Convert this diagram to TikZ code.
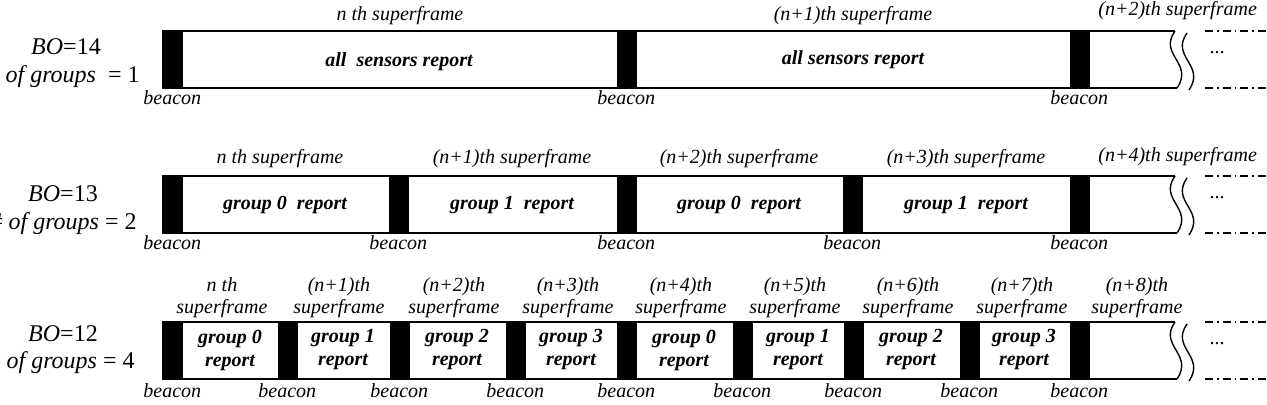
\documentclass[tikz,border=0pt]{standalone}
\usepackage{fontspec}
\setmainfont{Liberation Serif}
\usetikzlibrary{positioning}

\begin{document}
\begin{tikzpicture}[x=0.5pt,y=-0.5pt,
  bar/.style={line width=0.7pt},
  beaconbox/.style={draw,fill=black,line width=0.5pt,minimum width=9.25pt,minimum height=28.5pt,inner sep=0pt,anchor=north west},
  beaconlbl/.style={font=\fontsize{10}{12}\selectfont\itshape,inner sep=0pt,anchor=base},
  sflbl/.style={font=\fontsize{10}{11}\selectfont\itshape,inner sep=0pt,align=center,anchor=base},
  reportlbl/.style={font=\fontsize{10}{11.5}\selectfont\bfseries\itshape,inner sep=0pt,align=center},
  bolbl/.style={font=\fontsize{12}{14}\selectfont,inner sep=0pt,anchor=base},
  dotslbl/.style={font=\fontsize{10}{12}\selectfont,inner sep=0pt},
  dashdot/.style={line width=0.6pt,dash pattern=on 4pt off 2pt on 0.8pt off 2pt}]
  \useasboundingbox (0,0) rectangle (1267,405);
  % frame outline, torn end and what follows
  \foreach \T [count=\r] in {31,176,322} {
    \draw[bar] (1175,\T) -- (163,\T) -- (163,\T+57) -- (1177,\T+57);
    \draw[bar] (1175,\T) .. controls (1158,\T+24) and (1194,\T+32) .. (1177,\T+57);
    \draw[bar] (1187,\T+2) .. controls (1170,\T+26) and (1206,\T+34) .. (1189,\T+59);
    \draw[dashdot] (1205,\T) -- (1267,\T);
    \draw[dashdot] (1205,\T+57) -- (1267,\T+57);
    \node[dotslbl] (more\r) at (1217,\T+22) {...};
  }
  % BO = 14
  \node[bolbl] (boA) at (66,55) {\textit{BO}=14};
  \node[bolbl,anchor=base east] (grA) at (140,83) {\# \textit{of groups}~ = 1};
  \foreach \x [count=\k from 0] in {163,617,1070} {
    \node[beaconbox] (bA\k) at (\x,31) {};
    \node[beaconlbl] (bcA\k) at (\x+9.25,105) {beacon};
  }
  \node[sflbl] (sfA0) at (400,21) {n th superframe};
  \node[sflbl] (sfA1) at (853,21) {(n+1)th superframe};
  \node[sflbl,anchor=base west] (sfA2) at (1098,16) {(n+2)th superframe};
  \node[reportlbl] (rpA0) at (399,62) {all~ sensors report};
  \node[reportlbl] (rpA1) at (853,60) {all sensors report};
  % BO = 13
  \node[bolbl] (boB) at (63,202) {\textit{BO}=13};
  \node[bolbl,anchor=base east] (grB) at (137,230) {\# \textit{of groups} = 2};
  \foreach \x [count=\k from 0] in {163,389,617,843,1070} {
    \node[beaconbox] (bB\k) at (\x,176) {};
    \node[beaconlbl] (bcB\k) at (\x+9.25,250) {beacon};
  }
  \foreach \c/\m [count=\k from 0] in {280/n th,512/(n+1)th,739/(n+2)th,966/(n+3)th} {
    \node[sflbl] (sfB\k) at (\c,164) {\m\ superframe};
  }
  \node[sflbl,anchor=base west] (sfB4) at (1098,162) {(n+4)th superframe};
  \foreach \c/\g [count=\k from 0] in {285/0,512/1,739/0,966/1} {
    \node[reportlbl] (rpB\k) at (\c,205) {group \g~ report};
  }
  % BO = 12
  \node[bolbl] (boC) at (63,342) {\textit{BO}=12};
  \node[bolbl,anchor=base east] (grC) at (135,368) {\# \textit{of groups} = 4};
  \foreach \x [count=\k from 0] in {163,278,390,506,617,733,844,960,1070} {
    \node[beaconbox] (bC\k) at (\x,322) {};
    \node[beaconlbl] (bcC\k) at (\x+9.25,397) {beacon};
  }
  \foreach \c/\m [count=\k from 0] in {222/n th,339/(n+1)th,454/(n+2)th,568/(n+3)th,681/(n+4)th,795/(n+5)th,908/(n+6)th,1022/(n+7)th,1137/(n+8)th} {
    \node[sflbl,anchor=south] (sfC\k) at (\c,318) {\m\\superframe};
  }
  \foreach \c/\g [count=\k from 0] in {230/0,343/1,457/2,571/3,684/0,798/1,911/2,1024/3} {
    \node[reportlbl] (rpC\k) at (\c,350) {group \g\\report};
  }
\end{tikzpicture}
\end{document}
